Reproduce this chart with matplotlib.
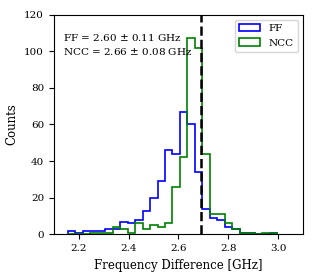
import matplotlib
matplotlib.use('Agg')
import matplotlib.pyplot as plt
import numpy as np

plt.rcParams['font.family'] = 'serif'
plt.rcParams['font.serif'] = ['DejaVu Serif']

# shared bin edges (GHz)
edges = np.linspace(2.156, 2.996, 29)
centers = 0.5 * (edges[:-1] + edges[1:])

ff_counts = [2, 1, 2, 2, 2, 3, 3, 7, 6, 8, 13, 20, 29, 46,
             44, 67, 60, 34, 14, 9, 8, 4, 3, 1, 1, 0, 0, 1]
ncc_counts = [0, 0, 0, 1, 1, 1, 4, 3, 1, 6, 3, 5, 4, 6,
              26, 42, 107, 102, 44, 11, 11, 6, 3, 1, 1, 0, 1, 1]
ref_freq = 2.69

fig = plt.figure(figsize=(3.15, 2.8), dpi=100)
ax = fig.add_axes([0.171, 0.163, 0.791, 0.785])

ax.hist(centers, bins=edges, weights=ff_counts, histtype='step',
        color='blue', lw=1.2, label='FF')
ax.hist(centers, bins=edges, weights=ncc_counts, histtype='step',
        color='green', lw=1.2, label='NCC')
ax.axvline(ref_freq, color='black', ls='--', lw=1.8)

ax.text(0.036, 0.894, 'FF = 2.60 $\\pm$ 0.11 GHz', transform=ax.transAxes,
        fontsize=7.5, va='center')
ax.text(0.036, 0.831, 'NCC = 2.66 $\\pm$ 0.08 GHz', transform=ax.transAxes,
        fontsize=7.5, va='center')

ax.set_xlim(2.1, 3.1)
ax.set_ylim(0, 120)
ax.set_xticks([2.2, 2.4, 2.6, 2.8, 3.0])
ax.set_yticks(np.arange(0, 121, 20))
ax.tick_params(labelsize=7.5)
ax.set_xlabel('Frequency Difference [GHz]', fontsize=8.5)
ax.set_ylabel('Counts', fontsize=8.5)
ax.legend(loc='upper right', fontsize=7.5)

fig.savefig('out.png', dpi=100)
